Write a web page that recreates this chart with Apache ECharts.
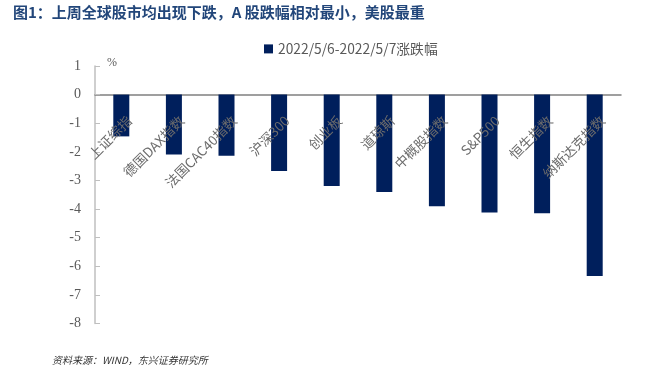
<!DOCTYPE html>
<html><head><meta charset="utf-8">
<script src="https://cdn.jsdelivr.net/npm/echarts@6/dist/echarts.min.js"></script>
<style>html,body{margin:0;padding:0;background:#fff}#c{width:656px;height:375px}</style>
</head><body><div id="c"></div>
<script>
const titleText = '图1：上周全球股市均出现下跌，A 股跌幅相对最小，美股最重';
const sourceText = '资料来源：WIND，东兴证券研究所';
const seriesName = '2022/5/6-2022/5/7涨跌幅';
const categories = ['上证综指','德国DAX指数','法国CAC40指数','沪深300','创业板','道琼斯','中概股指数','S&P500','恒生指数','纳斯达克指数'];
const values = [-1.46, -2.09, -2.14, -2.67, -3.19, -3.40, -3.90, -4.12, -4.15, -6.34];
const yMin = -8, yMax = 1, yStep = 1;

const chart = echarts.init(document.getElementById('c'), null, {renderer:'canvas'});
chart.setOption({
  animation:false,
  backgroundColor:'#fff',
  title:[{text:titleText, left:8, top:0, textStyle:{fontFamily:'Noto Sans CJK SC', fontSize:15, fontWeight:'bold', color:'#22467A'}},
         {text:sourceText, left:47, top:350, textStyle:{fontFamily:'Noto Sans CJK SC', fontSize:10, fontStyle:'italic', fontWeight:'normal', color:'#333'}}],
  legend:{data:[seriesName], left:259, top:37, itemWidth:9, itemHeight:9, itemGap:4, icon:'rect',
          textStyle:{fontFamily:'Noto Sans CJK SC', fontSize:13.8, color:'#595959'}},
  grid:{left:95, right:35, top:66, bottom:51.5, containLabel:false, outerBoundsMode:'none'},
  xAxis:{type:'category', data:categories,
    axisLine:{onZero:true, lineStyle:{color:'#808080', width:1.5}},
    axisTick:{show:false},
    axisLabel:{show:false}},
  yAxis:{type:'value', min:yMin, max:yMax, interval:yStep, name:'%', nameLocation:'end', nameGap:-3,
    nameTextStyle:{fontFamily:'Liberation Serif', fontSize:12, color:'#595959', align:'left', padding:[0,0,0,12]},
    splitLine:{show:false},
    axisLine:{show:true, lineStyle:{color:'#bfbfbf', width:1.5}},
    axisTick:{show:true, inside:true, length:5, lineStyle:{color:'#bfbfbf'}},
    axisLabel:{margin:14, fontFamily:'Liberation Serif', fontSize:14, color:'#595959'}},
  series:[{name:seriesName, type:'bar', data:values, barWidth:16, z:2,
    itemStyle:{color:'#001F5C'}},
   {type:'custom', name:'labels', silent:true, z:5,
    data:categories.map((c,i)=>[i,0]),
    renderItem:function(params, api){
      const p = api.coord([api.value(0), 0]);
      return {type:'text', x:p[0]+3, y:p[1]+19, rotation:Math.PI/4,
        style:{text:categories[params.dataIndex], align:'right', verticalAlign:'top',
          font:'13.5px "Noto Sans CJK SC"', fill:'#6b6b6b'}};
    }}]
});
</script></body></html>
